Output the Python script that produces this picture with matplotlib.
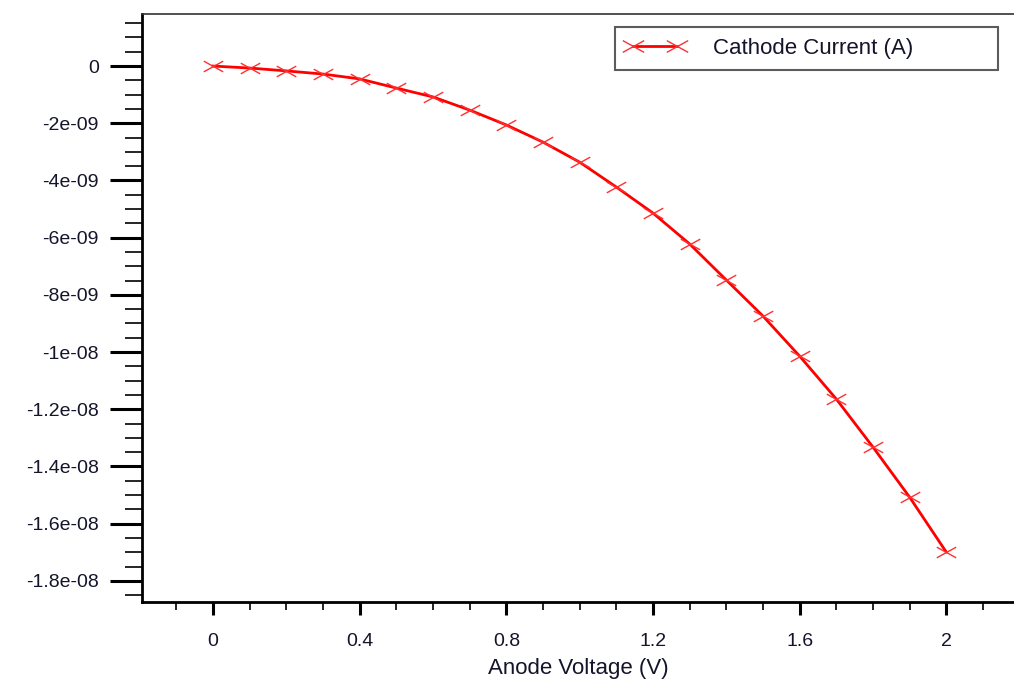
import numpy as np
import matplotlib.pyplot as plt
from matplotlib.path import Path
from matplotlib.ticker import MultipleLocator, FuncFormatter

# Anode voltage sweep (V) and cathode current (A)
anode_voltage = [0.0, 0.1, 0.2, 0.3, 0.4, 0.5, 0.6, 0.7, 0.8, 0.9, 1.0,
                 1.1, 1.2, 1.3, 1.4, 1.5, 1.6, 1.7, 1.8, 1.9, 2.0]
cathode_current = [0.0, -0.07e-9, -0.17e-9, -0.28e-9, -0.45e-9, -0.77e-9,
                   -1.08e-9, -1.54e-9, -2.06e-9, -2.66e-9, -3.36e-9,
                   -4.23e-9, -5.14e-9, -6.22e-9, -7.48e-9, -8.74e-9,
                   -10.14e-9, -11.64e-9, -13.32e-9, -15.07e-9, -16.99e-9]
series_label = 'Cathode Current (A)'
x_label = 'Anode Voltage (V)'

plt.rcParams['font.family'] = ['Liberation Sans', 'DejaVu Sans']
text_color = '#14142a'

# wide flat "x" marker like the original
wide_x = Path([(-1, -0.55), (1, 0.55), (-1, 0.55), (1, -0.55)],
              [Path.MOVETO, Path.LINETO, Path.MOVETO, Path.LINETO])

fig = plt.figure(figsize=(10.14, 6.81), dpi=100)
ax = fig.add_axes([142 / 1014, 79 / 681, 1 - 142 / 1014, (602 - 14) / 681])

ax.plot(anode_voltage, cathode_current, color='#ff0000', linewidth=2,
        marker=wide_x, markersize=14, markeredgewidth=1,
        markeredgecolor='#ff3030', label=series_label)

ax.set_xlim(-0.194, 2.185)
ax.set_ylim(-1.874e-8, 1.82e-9)

ax.xaxis.set_major_locator(MultipleLocator(0.4))
ax.xaxis.set_minor_locator(MultipleLocator(0.1))
ax.yaxis.set_major_locator(MultipleLocator(2e-9))
ax.yaxis.set_minor_locator(MultipleLocator(0.5e-9))
fmt = FuncFormatter(lambda v, pos: '0' if abs(v) < 1e-15 else '%g' % v)
ax.xaxis.set_major_formatter(fmt)
ax.yaxis.set_major_formatter(fmt)

ax.spines['right'].set_visible(False)
ax.spines['left'].set_linewidth(2)
ax.spines['bottom'].set_linewidth(2)
ax.spines['top'].set_linewidth(1.2)
ax.spines['top'].set_color('#333333')

ax.tick_params(axis='y', which='major', direction='out', length=23, width=2.2,
               pad=8, labelsize=14, labelcolor=text_color)
ax.tick_params(axis='y', which='minor', direction='out', length=12, width=1.2)
ax.tick_params(axis='x', which='major', direction='out', length=9, width=2.2,
               pad=13, labelsize=14, labelcolor=text_color)
ax.tick_params(axis='x', which='minor', direction='out', length=6, width=1.2)

ax.set_xlabel(x_label, fontsize=16, color=text_color, labelpad=6)

# fixed-size legend box, as in the original
leg = ax.legend(loc='upper left',
                bbox_to_anchor=(615 / 1014, 1 - 71 / 681, 383 / 1014, 44 / 681),
                bbox_transform=fig.transFigure, mode='expand',
                fontsize=16, frameon=True, fancybox=False, numpoints=2,
                handlelength=2.6, borderpad=0.5, borderaxespad=0,
                handletextpad=1.3, labelcolor=text_color, markerscale=1.1)
leg.get_frame().set_edgecolor('#333333')
leg.get_frame().set_linewidth(1.5)

fig.savefig('out.png', dpi=100)
